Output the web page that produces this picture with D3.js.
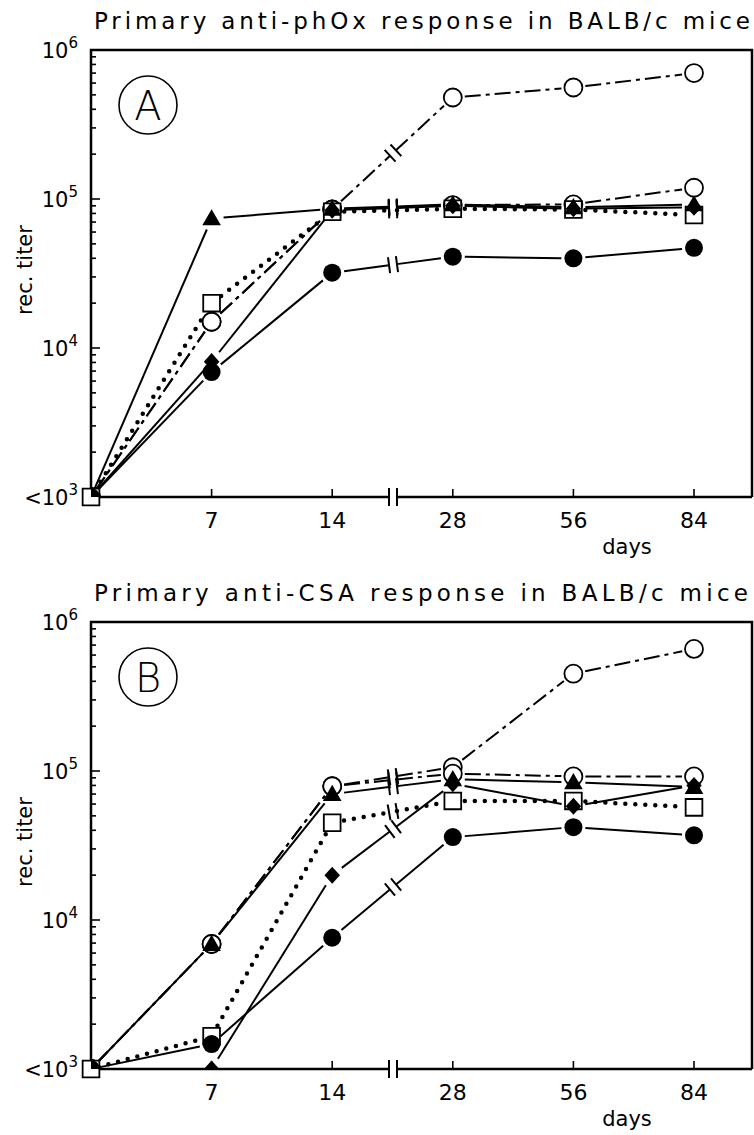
<!DOCTYPE html>
<html><head><meta charset="utf-8">
<script src="https://cdn.jsdelivr.net/npm/d3@7"></script>
<style>
body{margin:0;background:#fff}
svg{display:block}
text{font-family:"DejaVu Sans",sans-serif;fill:#000}
</style>
</head><body>
<svg id="chart" width="754" height="1135"></svg>
<script>
// ---------------- data ----------------
const days = ["0", "7", "14", "28", "56", "84"];
const panelTitles = ["Primary anti-phOx response in BALB/c mice", "Primary anti-CSA response in BALB/c mice"];
const panelLetters = ["A", "B"];
const yTickValues = [1e6, 1e5, 1e4, 1e3];
const yTickBase = ["10", "10", "10", "<10"];
const yTickExp = ["6", "5", "4", "3"];
const xAxisTitle = "days";
const yAxisTitle = "rec. titer";

// panel A (anti-phOx)
const A_openCircleHigh = [1e3, 1.5e4, 8.5e4, 4.8e5, 5.6e5, 7.0e5];
const A_openCircleLow  = [1e3, 1.5e4, 8.5e4, 9.1e4, 9.2e4, 1.19e5];
const A_triangle       = [1e3, 7.4e4, 8.6e4, 9.2e4, 8.8e4, 9.2e4];
const A_square         = [1e3, 2.0e4, 8.2e4, 8.6e4, 8.5e4, 7.8e4];
const A_diamond        = [1e3, 8.1e3, 8.4e4, 9.0e4, 8.6e4, 8.8e4];
const A_filledCircle   = [1e3, 6.9e3, 3.2e4, 4.1e4, 4.0e4, 4.7e4];

// panel B (anti-CSA)
const B_openCircleHigh = [1e3, 6.9e3, 7.9e4, 1.06e5, 4.5e5, 6.6e5];
const B_openCircleLow  = [1e3, 6.9e3, 7.9e4, 9.6e4, 9.2e4, 9.2e4];
const B_triangle       = [1e3, 6.9e3, 7.0e4, 8.8e4, 8.4e4, 7.8e4];
const B_square         = [1e3, 1.66e3, 4.5e4, 6.3e4, 6.3e4, 5.7e4];
const B_diamond        = [1e3, 1e3, 2.0e4, 8.2e4, 5.8e4, 8.0e4];
const B_filledCircle   = [1e3, 1.47e3, 7.6e3, 3.6e4, 4.2e4, 3.7e4];

const seriesKinds = ["openCircleHigh", "openCircleLow", "triangle", "square", "diamond", "filledCircle"];
const panelSeries = [
  [A_openCircleHigh, A_openCircleLow, A_triangle, A_square, A_diamond, A_filledCircle],
  [B_openCircleHigh, B_openCircleLow, B_triangle, B_square, B_diamond, B_filledCircle]
];

// ---------------- styles / layout ----------------
const style = {
  openCircleHigh: {line: "dashdot", marker: "openCircle"},
  openCircleLow:  {line: "dashdot", marker: "openCircle"},
  triangle:       {line: "solid",   marker: "triangle"},
  square:         {line: "dotted",  marker: "square"},
  diamond:        {line: "solid",   marker: "diamond"},
  filledCircle:   {line: "solid",   marker: "filledCircle"}
};
const plotLeft = 91, plotRight = 752, lastX = 694;
const panelTop = [50, 622];
const plotH = 447;
const breakX = 393, breakGap = 4;

const svg = d3.select("#chart");
const defs = svg.append("defs");

panelTop.forEach((top, pi) => {
  const g = svg.append("g");
  const x = d3.scalePoint().domain(days).range([plotLeft, lastX]);
  const y = d3.scaleLog().domain([1e3, 1e6]).range([top + plotH, top]);
  const bottom = top + plotH;

  const clipId = "clip" + pi;
  defs.append("clipPath").attr("id", clipId).append("rect")
    .attr("x", plotLeft).attr("y", top).attr("width", plotRight - plotLeft).attr("height", plotH);

  // title
  g.append("text").attr("x", 94).attr("y", top - 21)
    .attr("font-size", 23).attr("textLength", pi === 0 ? 656 : 654).attr("lengthAdjust", "spacing")
    .text(panelTitles[pi]);

  // frame
  const frame = g.append("g").attr("stroke", "#000").attr("stroke-width", 2.5).attr("fill", "none");
  frame.append("path").attr("d", `M${plotLeft},${bottom}V${top}H${plotRight}V${bottom}`);
  frame.append("path").attr("d", `M${plotLeft},${bottom}H${breakX - breakGap}M${breakX + breakGap},${bottom}H${plotRight}`);
  frame.append("path").attr("stroke-width", 2)
    .attr("d", `M${breakX - breakGap},${bottom - 9}V${bottom + 9}M${breakX + breakGap},${bottom - 9}V${bottom + 9}`);

  // y ticks (major + minor) drawn inward
  const tickG = g.append("g").attr("stroke", "#000").attr("stroke-width", 1.6);
  for (let e = 3; e < 6; e++) {
    for (let m = 1; m <= 9; m++) {
      const v = m * Math.pow(10, e);
      if (v === 1e3) continue;
      const len = m === 1 ? 9 : 5;
      tickG.append("line").attr("x1", plotLeft).attr("x2", plotLeft + len)
        .attr("y1", y(v)).attr("y2", y(v));
    }
  }
  // x ticks
  days.slice(1).forEach(d => {
    tickG.append("line").attr("x1", x(d)).attr("x2", x(d)).attr("y1", bottom).attr("y2", bottom - 8);
  });

  // y tick labels
  yTickValues.forEach((v, i) => {
    const t = g.append("text").attr("x", 78).attr("y", y(v) + 8).attr("text-anchor", "end").attr("font-size", 21);
    t.append("tspan").text(yTickBase[i]);
    t.append("tspan").attr("dy", -10).attr("font-size", 15).text(yTickExp[i]);
  });
  // x tick labels
  days.slice(1).forEach(d => {
    g.append("text").attr("x", x(d)).attr("y", bottom + 31).attr("text-anchor", "middle")
      .attr("font-size", 22).text(d);
  });
  g.append("text").attr("x", 627).attr("y", bottom + 57).attr("text-anchor", "middle")
    .attr("font-size", 21).text(xAxisTitle);
  g.append("text").attr("transform", `translate(32,${top + 220}) rotate(-90)`)
    .attr("text-anchor", "middle").attr("font-size", 21).text(yAxisTitle);

  // panel letter
  g.append("circle").attr("cx", 148).attr("cy", top + 55).attr("r", 29)
    .attr("fill", "none").attr("stroke", "#000").attr("stroke-width", 1.6);
  g.append("text").attr("x", 148).attr("y", top + 70).attr("text-anchor", "middle")
    .attr("font-size", 40).attr("font-weight", 300).text(panelLetters[pi]);

  // lines
  const lineG = g.append("g").attr("fill", "none").attr("stroke", "#000");
  function strokeStyle(sel, kind) {
    if (kind === "dashdot") sel.attr("stroke-width", 2).attr("stroke-dasharray", "16,5,4,5");
    else if (kind === "dotted") sel.attr("stroke-width", 4.5).attr("stroke-dasharray", "0,10").attr("stroke-linecap", "round");
    else sel.attr("stroke-width", 2);
    return sel;
  }
  panelSeries[pi].forEach((vals, si) => {
    const st = style[seriesKinds[si]];
    for (let k = 0; k < days.length - 1; k++) {
      const x1 = x(days[k]), y1 = y(vals[k]), x2 = x(days[k + 1]), y2 = y(vals[k + 1]);
      const dx = x2 - x1, dy = y2 - y1, L = Math.hypot(dx, dy);
      const ux = dx / L, uy = dy / L;
      const t1 = k === 0 ? 8 : 12, t2 = 12;
      const pieces = [];
      const hasBreak = x1 < breakX && x2 > breakX;
      if (hasBreak) {
        const tb = (breakX - x1) / dx * L;
        pieces.push([t1, tb - breakGap], [tb + breakGap, L - t2]);
        const nx = -uy, ny = ux;
        [tb - breakGap, tb + breakGap].forEach(t => {
          const cx = x1 + ux * t, cy = y1 + uy * t;
          lineG.append("line").attr("stroke-width", 2)
            .attr("x1", cx - nx * 8).attr("y1", cy - ny * 8).attr("x2", cx + nx * 8).attr("y2", cy + ny * 8);
        });
      } else {
        pieces.push([t1, L - t2]);
      }
      pieces.forEach(([a, b]) => {
        if (b <= a) return;
        strokeStyle(lineG.append("line")
          .attr("x1", x1 + ux * a).attr("y1", y1 + uy * a)
          .attr("x2", x1 + ux * b).attr("y2", y1 + uy * b), st.line);
      });
    }
  });

  // markers
  const order = ["openCircle", "square", "triangle", "diamond", "filledCircle"];
  const symbols = {
    triangle: d3.symbol().type(d3.symbolTriangle).size(150),
    diamond: d3.symbol().type(d3.symbolSquare).size(120),
    square: d3.symbol().type(d3.symbolSquare).size(280)
  };
  order.forEach(mk => {
    panelSeries[pi].forEach((vals, si) => {
      if (style[seriesKinds[si]].marker !== mk) return;
      const mg = g.append("g");
      if (mk !== "square") mg.attr("clip-path", `url(#${clipId})`);
      vals.forEach((v, k) => {
        const cx = x(days[k]), cy = y(v);
        if (mk === "openCircle") {
          mg.append("circle").attr("cx", cx).attr("cy", cy).attr("r", 9)
            .attr("fill", "#fff").attr("stroke", "#000").attr("stroke-width", 1.8);
        } else if (mk === "filledCircle") {
          mg.append("circle").attr("cx", cx).attr("cy", cy).attr("r", 9).attr("fill", "#000");
        } else if (mk === "square") {
          mg.append("path").attr("d", symbols.square()).attr("transform", `translate(${cx},${cy})`)
            .attr("fill", "#fff").attr("stroke", "#000").attr("stroke-width", 1.8);
        } else if (mk === "diamond") {
          mg.append("path").attr("d", symbols.diamond()).attr("transform", `translate(${cx},${cy}) scale(1,1.1) rotate(45)`)
            .attr("fill", "#000");
        } else {
          mg.append("path").attr("d", symbols.triangle()).attr("transform", `translate(${cx},${cy + 1.5})`)
            .attr("fill", "#000");
        }
      });
    });
  });
});
</script>
</body></html>
